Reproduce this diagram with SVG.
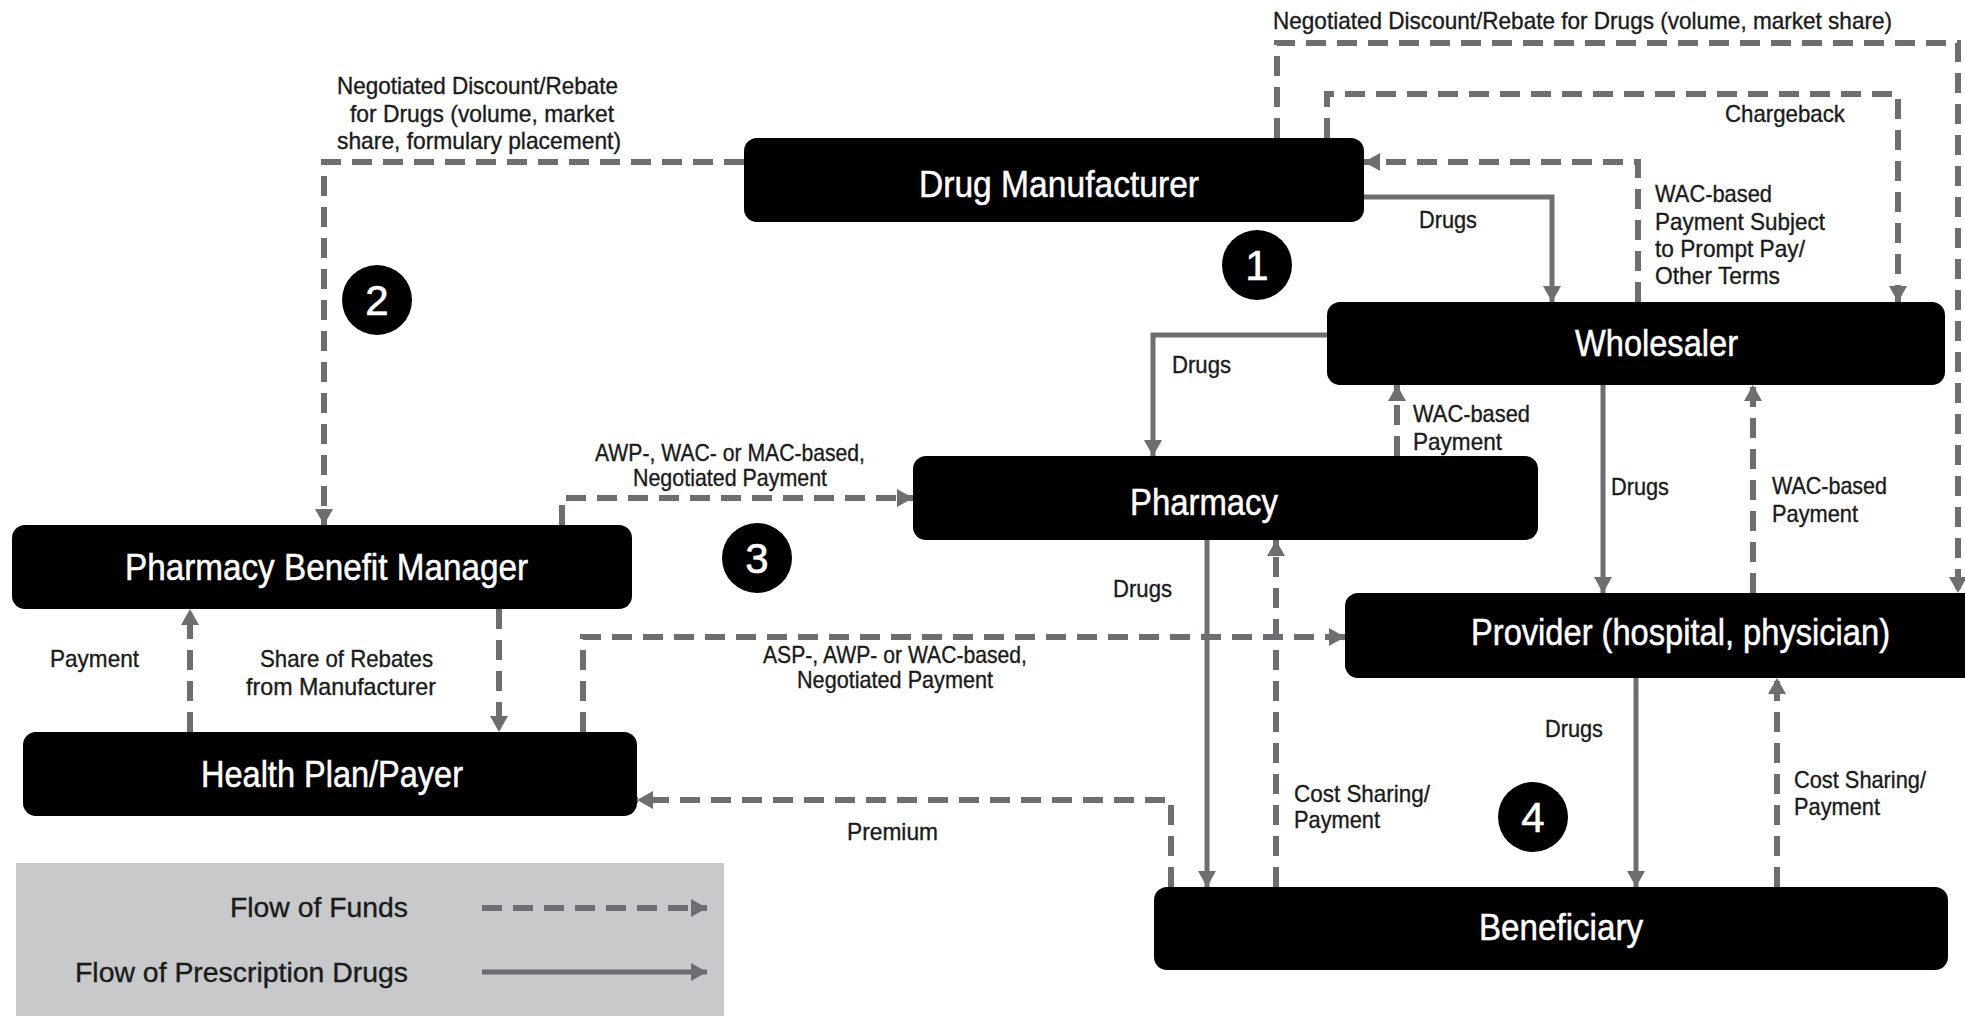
<svg xmlns="http://www.w3.org/2000/svg" width="1965" height="1016" viewBox="0 0 1965 1016">
<style>
.box{fill:#000}
.nt{fill:#fff;stroke:#fff;stroke-width:0.5;font-family:"Liberation Sans",Arial,sans-serif;font-size:36px}
.lb{fill:#1a1a1a;stroke:#1a1a1a;stroke-width:0.35;font-family:"Liberation Sans",Arial,sans-serif;font-size:24px}
.lg{fill:#1a1a1a;stroke:#1a1a1a;stroke-width:0.35;font-family:"Liberation Sans",Arial,sans-serif;font-size:27px}
.num{fill:#fff;stroke:#fff;stroke-width:0.6;font-family:"Liberation Sans",Arial,sans-serif;font-size:42px;text-anchor:middle}
.fund{fill:none;stroke:#6d6e71;stroke-width:6;stroke-dasharray:20 11;marker-end:url(#ah)}
.drug{fill:none;stroke:#6d6e71;stroke-width:5;marker-end:url(#ah)}
</style>
<defs>
<marker id="ah" markerUnits="userSpaceOnUse" markerWidth="18" markerHeight="18" viewBox="0 0 16 18" refX="16" refY="9" orient="auto">
<path d="M0,0 L16,9 L0,18 z" fill="#6d6e71"/>
</marker>
</defs>
<rect x="0" y="0" width="1965" height="1016" fill="#fff"/>

<g id="legend">
<rect x="16" y="863" width="708" height="153" fill="#c8c9cb"/>
<text class="lg" x="230" y="917" textLength="178" lengthAdjust="spacingAndGlyphs">Flow of Funds</text>
<text class="lg" x="75" y="982" textLength="333" lengthAdjust="spacingAndGlyphs">Flow of Prescription Drugs</text>
<path class="fund" d="M482,908 H707"/>
<path class="drug" d="M482,972 H707"/>
</g>

<g id="connectors">
<path class="fund" d="M1277,138 V43 H1958 V593"/>
<path class="fund" d="M1327,138 V94 H1898 V302"/>
<path class="fund" d="M1638,302 V162 H1364"/>
<path class="fund" d="M744,162 H324 V525"/>
<path class="fund" d="M562,525 V498 H913"/>
<path class="fund" d="M583,732 V637 H1345"/>
<path class="fund" d="M1397,456 V385"/>
<path class="fund" d="M1753,593 V385"/>
<path class="fund" d="M190,732 V609"/>
<path class="fund" d="M499,609 V732"/>
<path class="fund" d="M1171,887 V800 H637"/>
<path class="fund" d="M1276,887 V540"/>
<path class="fund" d="M1777,887 V678"/>
<path class="drug" d="M1364,197 H1552 V302"/>
<path class="drug" d="M1327,335 H1153 V456"/>
<path class="drug" d="M1603,385 V593"/>
<path class="drug" d="M1207,540 V887"/>
<path class="drug" d="M1636,678 V887"/>
</g>

<g id="labels">
<text class="lb" x="1273" y="29" textLength="619" lengthAdjust="spacingAndGlyphs">Negotiated Discount/Rebate for Drugs (volume, market share)</text>
<text class="lb" x="337" y="94" textLength="281" lengthAdjust="spacingAndGlyphs">Negotiated Discount/Rebate</text>
<text class="lb" x="350" y="122" textLength="264" lengthAdjust="spacingAndGlyphs">for Drugs (volume, market</text>
<text class="lb" x="337" y="149" textLength="284" lengthAdjust="spacingAndGlyphs">share, formulary placement)</text>
<text class="lb" x="1725" y="122" textLength="120" lengthAdjust="spacingAndGlyphs">Chargeback</text>
<text class="lb" x="1419" y="228" textLength="58" lengthAdjust="spacingAndGlyphs">Drugs</text>
<text class="lb" x="1655" y="202" textLength="117" lengthAdjust="spacingAndGlyphs">WAC-based</text>
<text class="lb" x="1655" y="230" textLength="170" lengthAdjust="spacingAndGlyphs">Payment Subject</text>
<text class="lb" x="1655" y="257" textLength="150" lengthAdjust="spacingAndGlyphs">to Prompt Pay/</text>
<text class="lb" x="1655" y="284" textLength="125" lengthAdjust="spacingAndGlyphs">Other Terms</text>
<text class="lb" x="1172" y="373" textLength="59" lengthAdjust="spacingAndGlyphs">Drugs</text>
<text class="lb" x="1413" y="422" textLength="117" lengthAdjust="spacingAndGlyphs">WAC-based</text>
<text class="lb" x="1413" y="450" textLength="89" lengthAdjust="spacingAndGlyphs">Payment</text>
<text class="lb" x="1611" y="495" textLength="58" lengthAdjust="spacingAndGlyphs">Drugs</text>
<text class="lb" x="1772" y="494" textLength="115" lengthAdjust="spacingAndGlyphs">WAC-based</text>
<text class="lb" x="1772" y="522" textLength="86" lengthAdjust="spacingAndGlyphs">Payment</text>
<text class="lb" x="595" y="461" textLength="270" lengthAdjust="spacingAndGlyphs">AWP-, WAC- or MAC-based,</text>
<text class="lb" x="633" y="486" textLength="194" lengthAdjust="spacingAndGlyphs">Negotiated Payment</text>
<text class="lb" x="1113" y="597" textLength="59" lengthAdjust="spacingAndGlyphs">Drugs</text>
<text class="lb" x="763" y="663" textLength="264" lengthAdjust="spacingAndGlyphs">ASP-, AWP- or WAC-based,</text>
<text class="lb" x="797" y="688" textLength="196" lengthAdjust="spacingAndGlyphs">Negotiated Payment</text>
<text class="lb" x="50" y="667" textLength="89" lengthAdjust="spacingAndGlyphs">Payment</text>
<text class="lb" x="260" y="667" textLength="173" lengthAdjust="spacingAndGlyphs">Share of Rebates</text>
<text class="lb" x="246" y="695" textLength="190" lengthAdjust="spacingAndGlyphs">from Manufacturer</text>
<text class="lb" x="847" y="840" textLength="91" lengthAdjust="spacingAndGlyphs">Premium</text>
<text class="lb" x="1294" y="802" textLength="136" lengthAdjust="spacingAndGlyphs">Cost Sharing/</text>
<text class="lb" x="1294" y="828" textLength="86" lengthAdjust="spacingAndGlyphs">Payment</text>
<text class="lb" x="1545" y="737" textLength="58" lengthAdjust="spacingAndGlyphs">Drugs</text>
<text class="lb" x="1794" y="788" textLength="132" lengthAdjust="spacingAndGlyphs">Cost Sharing/</text>
<text class="lb" x="1794" y="815" textLength="86" lengthAdjust="spacingAndGlyphs">Payment</text>
</g>

<g id="node-drug-manufacturer">
<rect class="box" x="744" y="138" width="620" height="84" rx="13"/>
<text class="nt" x="919" y="197" textLength="280" lengthAdjust="spacingAndGlyphs">Drug Manufacturer</text>
</g>
<g id="node-wholesaler">
<rect class="box" x="1327" y="302" width="618" height="83" rx="13"/>
<text class="nt" x="1575" y="356" textLength="163" lengthAdjust="spacingAndGlyphs">Wholesaler</text>
</g>
<g id="node-pharmacy">
<rect class="box" x="913" y="456" width="625" height="84" rx="13"/>
<text class="nt" x="1130" y="515" textLength="148" lengthAdjust="spacingAndGlyphs">Pharmacy</text>
</g>
<g id="node-pbm">
<rect class="box" x="12" y="525" width="620" height="84" rx="13"/>
<text class="nt" x="125" y="580" textLength="403" lengthAdjust="spacingAndGlyphs">Pharmacy Benefit Manager</text>
</g>
<g id="node-provider">
<rect class="box" x="1345" y="593" width="640" height="85" rx="13"/>
<text class="nt" x="1471" y="645" textLength="419" lengthAdjust="spacingAndGlyphs">Provider (hospital, physician)</text>
</g>
<g id="node-health-plan">
<rect class="box" x="23" y="732" width="614" height="84" rx="13"/>
<text class="nt" x="201" y="787" textLength="262" lengthAdjust="spacingAndGlyphs">Health Plan/Payer</text>
</g>
<g id="node-beneficiary">
<rect class="box" x="1154" y="887" width="794" height="83" rx="13"/>
<text class="nt" x="1479" y="940" textLength="164" lengthAdjust="spacingAndGlyphs">Beneficiary</text>
</g>

<g id="marker-1"><ellipse cx="1257" cy="265" rx="35" ry="35" fill="#000"/><text class="num" x="1257" y="280">1</text></g>
<g id="marker-2"><ellipse cx="377" cy="300" rx="35" ry="35" fill="#000"/><text class="num" x="377" y="315">2</text></g>
<g id="marker-3"><ellipse cx="757" cy="558" rx="35" ry="35" fill="#000"/><text class="num" x="757" y="573">3</text></g>
<g id="marker-4"><ellipse cx="1533" cy="817" rx="35" ry="35" fill="#000"/><text class="num" x="1533" y="832">4</text></g>
</svg>
